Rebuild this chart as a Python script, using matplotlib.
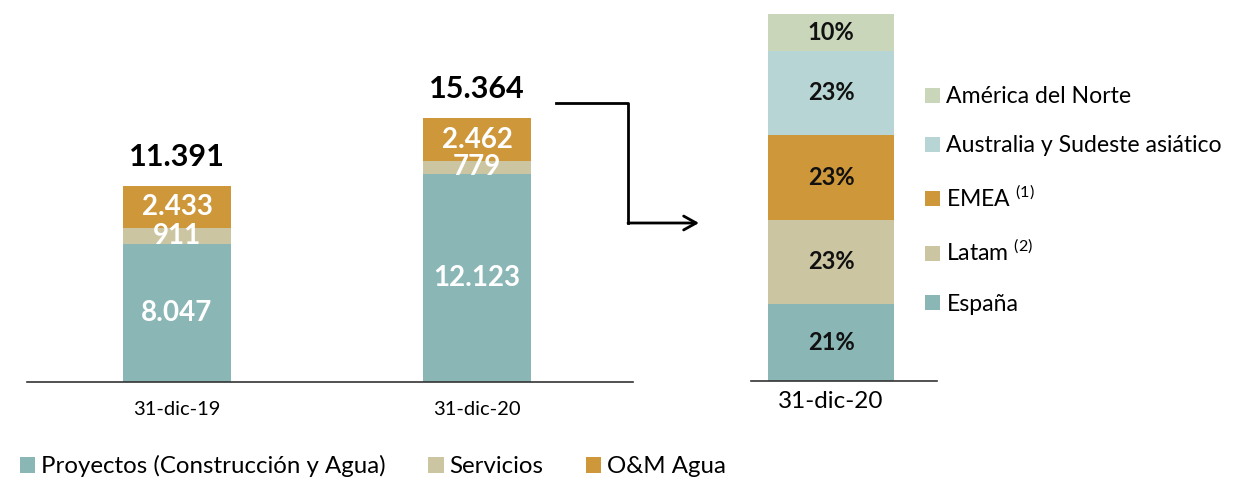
import numpy as np
import matplotlib
matplotlib.use('Agg')
import matplotlib.pyplot as plt
from matplotlib.lines import Line2D

plt.rcParams['font.family'] = ['Lato', 'DejaVu Sans']
plt.rcParams['mathtext.fontset'] = 'custom'
plt.rcParams['mathtext.rm'] = 'Lato'

# left chart: cartera por linea de negocio
dates = ['31-dic-19', '31-dic-20']
proyectos = [8047, 12123]
servicios = [911, 779]
om_agua = [2433, 2462]
totals = [11391, 15364]
seg_names = ['Proyectos (Construcción y Agua)', 'Servicios', 'O&M Agua']

# right chart: reparto geografico 31-dic-20
regions = ['España', 'Latam', 'EMEA', 'Australia y Sudeste asiático', 'América del Norte']
region_labels = ['España', 'Latam $^{(2)}$', 'EMEA $^{(1)}$',
                 'Australia y Sudeste asiático', 'América del Norte']
region_pct = [21, 23, 23, 23, 10]
right_date = '31-dic-20'

teal = '#8AB6B5'
beige = '#CBC5A1'
gold = '#CD973A'
region_cols = [teal, beige, gold, '#B6D5D4', '#C9D6B9']

W, H = 1236, 478
fig = plt.figure(figsize=(W / 100, H / 100), dpi=100)

def fbox(x0, y0, x1, y1):
    # pixel box (top-left origin) -> figure fraction rect
    return [x0 / W, 1 - y1 / H, (x1 - x0) / W, (y1 - y0) / H]

def num(v):
    return '{:,}'.format(v).replace(',', '.')

ax = fig.add_axes(fbox(27, 0, 633, 381.5))
x = np.arange(len(dates))
bw = 0.36
b1 = ax.bar(x, proyectos, bw, color=teal)
b2 = ax.bar(x, servicios, bw, bottom=proyectos, color=beige)
bot3 = np.array(proyectos) + np.array(servicios)
b3 = ax.bar(x, om_agua, bw, bottom=bot3, color=gold)
ax.set_xlim(-0.5, 1.52)
ax.set_ylim(0, 22284)
for bars in (b1, b2, b3):
    ax.bar_label(bars, labels=[num(int(v)) for v in bars.datavalues], label_type='center',
                 color='white', fontsize=20, fontweight='bold')
for xi, t in zip(x, totals):
    ax.annotate(num(t), (xi, t), xytext=(0, 11), textcoords='offset points',
                ha='center', va='bottom', fontsize=22, fontweight='bold', color='black')
ax.set_xticks(x)
ax.set_xticklabels(dates, fontsize=14.5)
ax.tick_params(axis='x', length=0, pad=14)
ax.set_yticks([])
for s in ['top', 'right', 'left']:
    ax.spines[s].set_visible(False)
ax.spines['bottom'].set_color('#333333')
ax.spines['bottom'].set_linewidth(1.2)

fig.legend([b1, b2, b3], seg_names, loc='center left', bbox_to_anchor=(10 / W, 1 - 466 / H),
           ncol=3, frameon=False, fontsize=17.3, handlelength=0.65, handleheight=0.65,
           handletextpad=0.25, columnspacing=1.75, borderaxespad=0)

# right chart
ax2 = fig.add_axes(fbox(751, 14, 937, 381))
bottom = 0
handles = []
for name, p, c in zip(regions, region_pct, region_cols):
    b = ax2.bar([0], [p], 1.0, bottom=bottom, color=c)
    ax2.bar_label(b, labels=['{}%'.format(p)], label_type='center', color='#111111',
                  fontsize=17, fontweight='bold')
    handles.append(b)
    bottom += p
ax2.set_xlim(-0.635, 0.841)
ax2.set_ylim(0, 100)
ax2.set_xticks([0])
ax2.set_xticklabels([right_date], fontsize=17.5)
ax2.tick_params(axis='x', length=0, pad=7)
ax2.set_yticks([])
for s in ['top', 'right', 'left']:
    ax2.spines[s].set_visible(False)
ax2.spines['bottom'].set_color('#333333')
ax2.spines['bottom'].set_linewidth(1.2)

fig.legend(handles[::-1], region_labels[::-1], loc='upper left',
           bbox_to_anchor=(916 / W, 1 - 77 / H), frameon=False, fontsize=16.6,
           handlelength=0.62, handleheight=0.62, handletextpad=0.3,
           labelspacing=1.22, borderaxespad=0)

# connector arrow from left total to right bar
px = lambda xp, yp: (xp / W, 1 - yp / H)
p0, p1, p2 = px(556, 103), px(628, 103), px(628, 223)
fig.add_artist(Line2D([p0[0], p1[0], p2[0]], [p0[1], p1[1], p2[1]],
                      transform=fig.transFigure, color='black', lw=2))
fig.add_artist(matplotlib.patches.FancyArrowPatch(p2, px(699, 223), transform=fig.transFigure,
                                                  arrowstyle='->,head_length=9,head_width=5',
                                                  color='black', lw=2, shrinkA=0, shrinkB=0))

fig.savefig('out.png', dpi=100)
